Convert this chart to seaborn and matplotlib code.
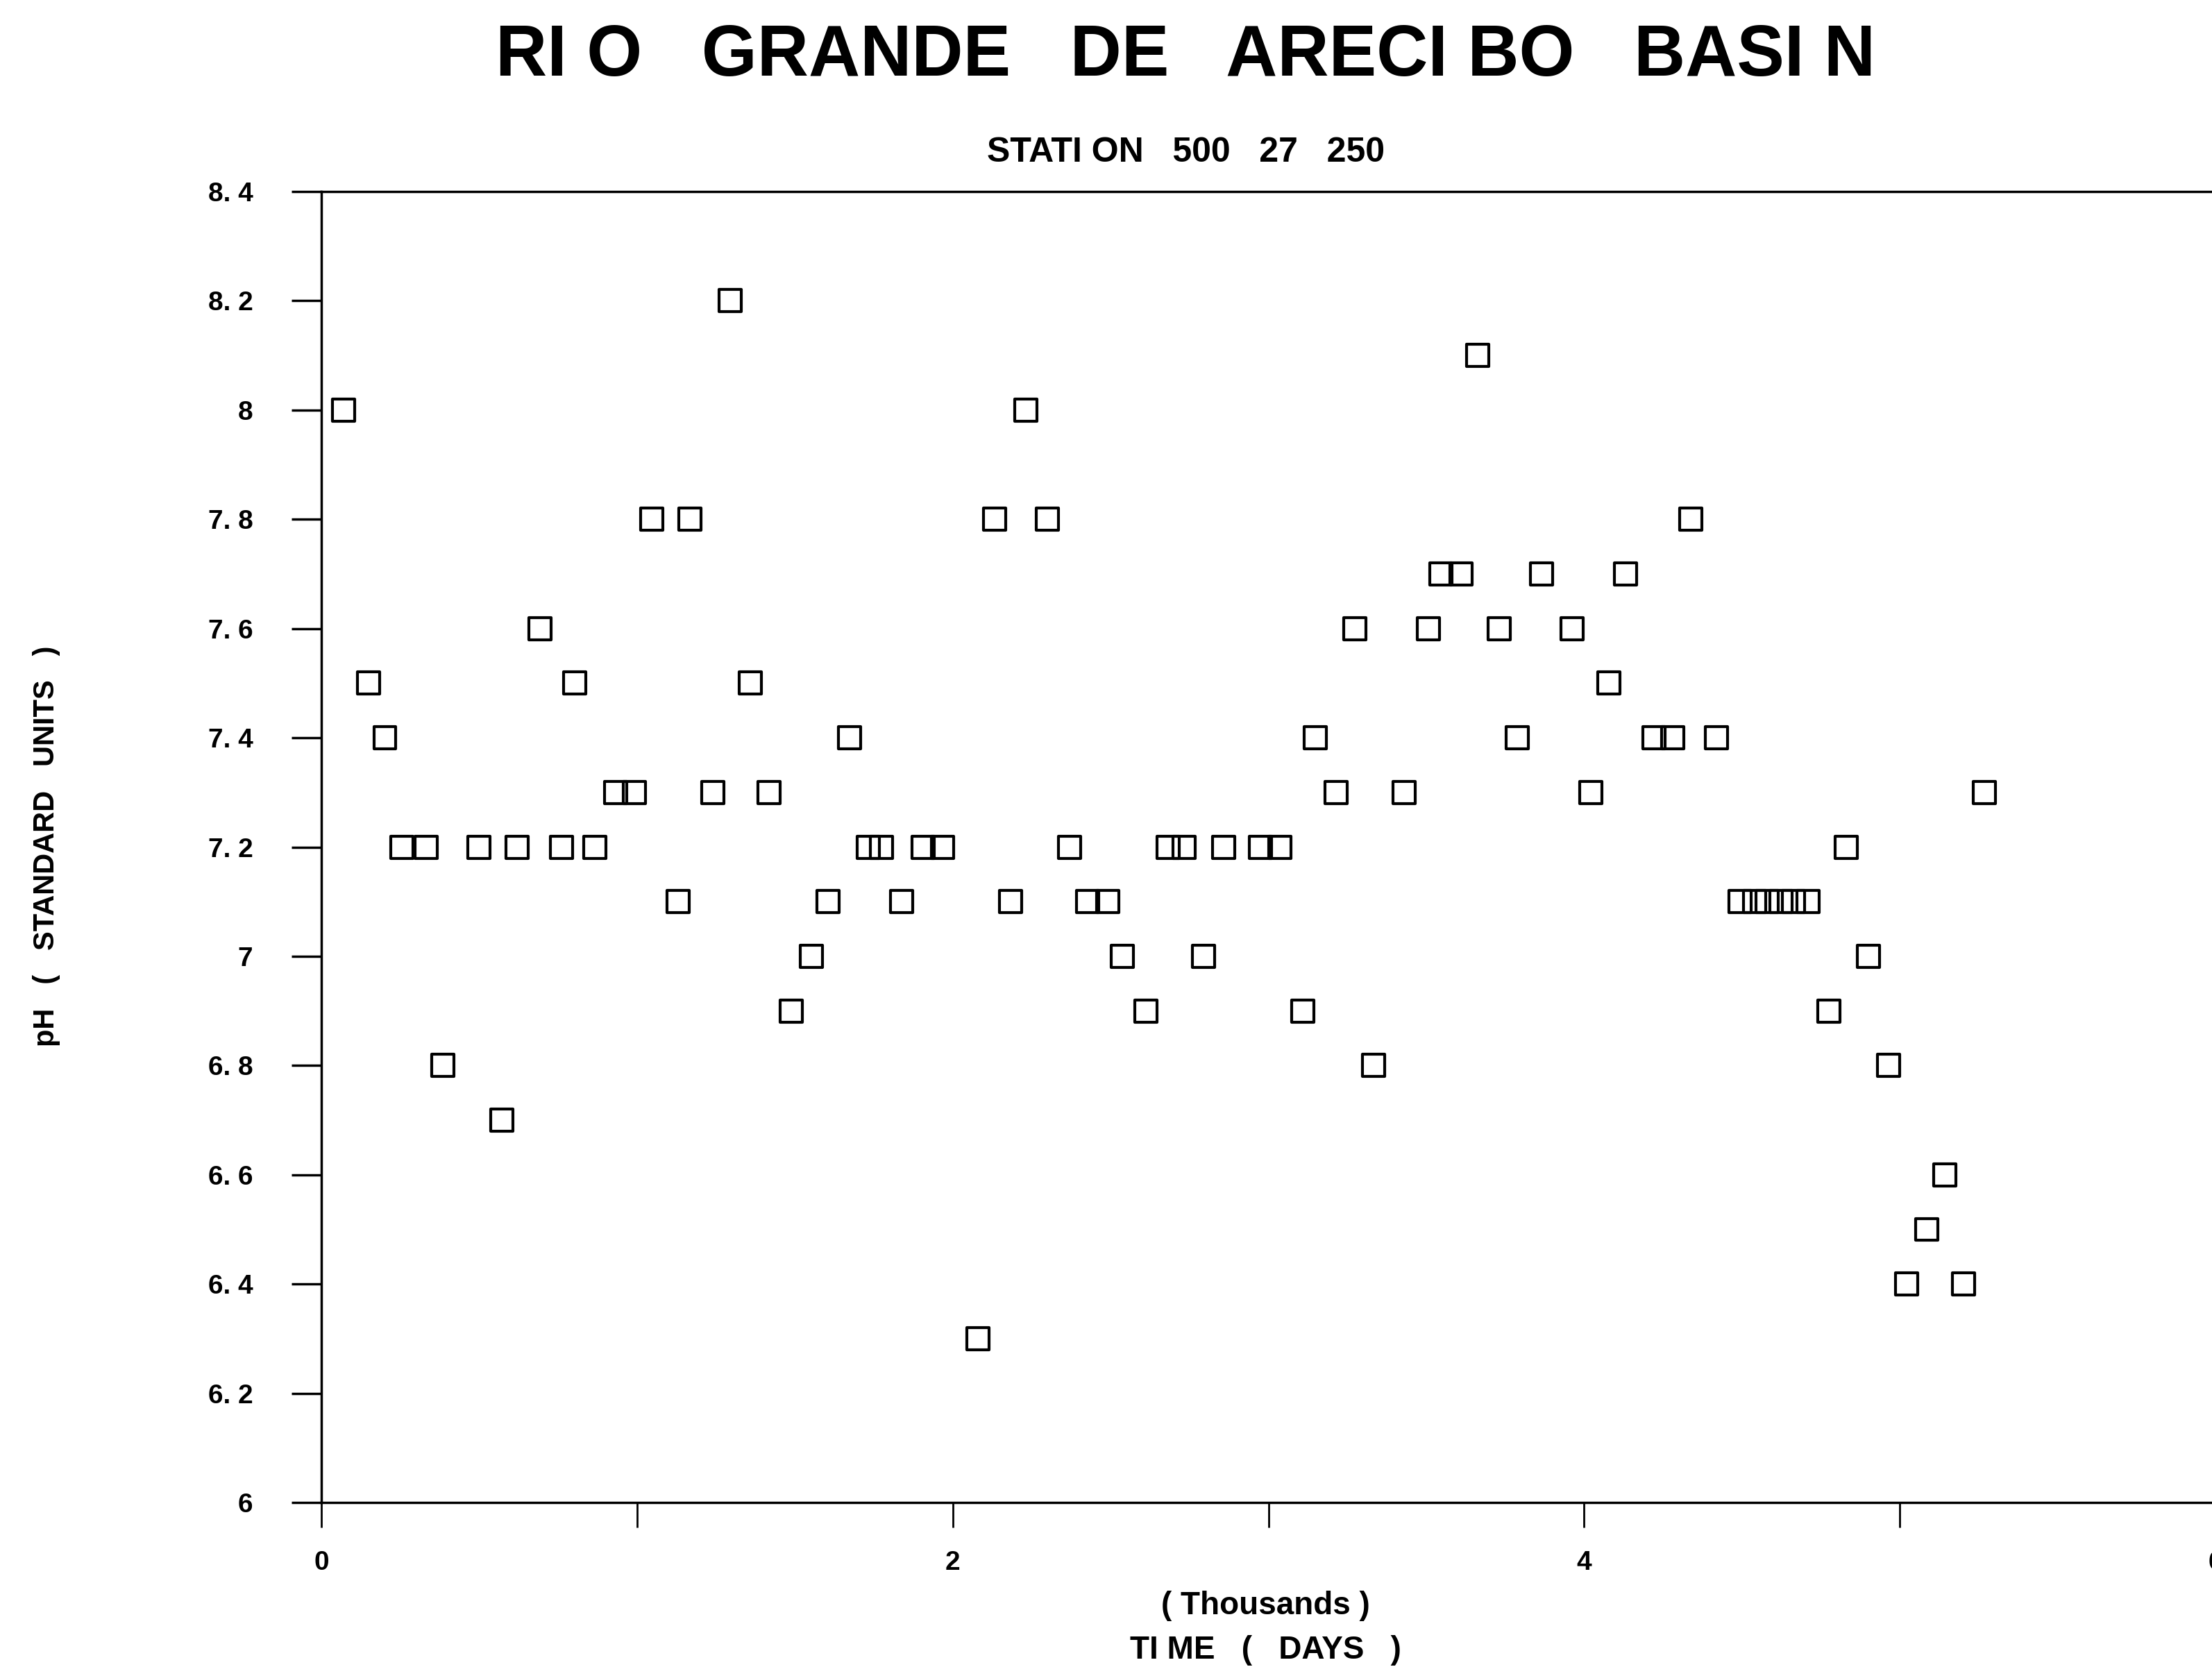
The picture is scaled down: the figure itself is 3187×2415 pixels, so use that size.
import numpy as np
import pandas as pd
import seaborn as sns
import matplotlib
matplotlib.use("Agg")
import matplotlib.pyplot as plt

# pH readings at station 500 27 250
time_days = [70, 150, 201, 255, 331, 385, 499, 572, 619, 693, 760, 803, 866, 932, 991,
             1046, 1130, 1167, 1239, 1295, 1359, 1418, 1489, 1552, 1605, 1673, 1733, 1775,
             1838, 1905, 1968, 2079, 2133, 2182, 2232, 2299, 2370, 2428, 2491, 2538, 2612,
             2683, 2732, 2794, 2858, 2974, 3036, 3108, 3148, 3215, 3274, 3332, 3430, 3506,
             3546, 3609, 3663, 3730, 3788, 3864, 3962, 4020, 4078, 4132, 4222, 4280, 4338,
             4418, 4494, 4539, 4579, 4624, 4664, 4709, 4776, 4830, 4901, 4964, 5022, 5085,
             5143, 5201, 5268]
ph = [8.0, 7.5, 7.4, 7.2, 7.2, 6.8, 7.2, 6.7, 7.2, 7.6, 7.2, 7.5, 7.2, 7.3, 7.3,
      7.8, 7.1, 7.8, 7.3, 8.2, 7.5, 7.3, 6.9, 7.0, 7.1, 7.4, 7.2, 7.2,
      7.1, 7.2, 7.2, 6.3, 7.8, 7.1, 8.0, 7.8, 7.2, 7.1, 7.1, 7.0, 6.9,
      7.2, 7.2, 7.0, 7.2, 7.2, 7.2, 6.9, 7.4, 7.3, 7.6, 6.8, 7.3, 7.6,
      7.7, 7.7, 8.1, 7.6, 7.4, 7.7, 7.6, 7.3, 7.5, 7.7, 7.4, 7.4, 7.8,
      7.4, 7.1, 7.1, 7.1, 7.1, 7.1, 7.1, 6.9, 7.2, 7.0, 6.8, 6.4, 6.5,
      6.6, 6.4, 7.3]

y_ticks = [6.0, 6.2, 6.4, 6.6, 6.8, 7.0, 7.2, 7.4, 7.6, 7.8, 8.0, 8.2, 8.4]
x_ticks = [0, 1, 2, 3, 4, 5, 6]
x_ticklabels = ["0", "", "2", "", "4", "", "6"]

df = pd.DataFrame({"time": np.array(time_days) / 1000.0, "ph": ph})

sns.set_style("ticks")
plt.rcParams["font.family"] = ["Liberation Sans", "DejaVu Sans"]
plt.rcParams["font.weight"] = "bold"
plt.rcParams["text.color"] = "black"
plt.rcParams["xtick.color"] = "black"
plt.rcParams["ytick.color"] = "black"

fig = plt.figure(figsize=(31.87, 24.15), dpi=100)
ax = fig.add_axes([0.1453, 0.1035, 0.8563, 0.7822])

sns.scatterplot(data=df, x="time", y="ph", ax=ax, marker="s", s=530,
                facecolor="none", edgecolor="black", linewidth=3.0, clip_on=False)

ax.set_xlim(0, 6)
ax.set_ylim(6, 8.4)
ax.set_xticks(x_ticks)
ax.set_xticklabels(x_ticklabels)
ax.set_yticks(y_ticks)
ylabels = [str(int(v)) if abs(v - round(v)) < 1e-9 else f"{v:.1f}".replace(".", ". ") for v in y_ticks]
ax.set_yticklabels(ylabels)

ax.tick_params(axis="y", direction="out", length=31, width=2.5, pad=40, labelsize=28)
ax.tick_params(axis="x", direction="out", length=26, width=2.0, pad=24, labelsize=28)
for lab in ax.get_xticklabels() + ax.get_yticklabels():
    lab.set_fontweight("bold")

for side in ["left", "bottom", "top"]:
    ax.spines[side].set_linewidth(2.5)
    ax.spines[side].set_color("black")
ax.spines["right"].set_visible(False)

ax.set_xlabel("")
ax.set_ylabel("")

fig.text(0.536, 0.966, "RI O   GRANDE   DE   ARECI BO   BASI N", ha="center", va="center",
         fontsize=74, fontweight="bold")
fig.text(0.536, 0.909, "STATI ON   500   27   250", ha="center", va="center",
         fontsize=36, fontweight="bold")
fig.text(0.021, 0.495, "pH   (   STANDARD   UNITS   )", rotation=90, ha="center", va="center",
         fontsize=30, fontweight="bold")
fig.text(0.572, 0.042, "( Thousands )", ha="center", va="center", fontsize=33, fontweight="bold")
fig.text(0.572, 0.0153, "TI ME   (   DAYS   )", ha="center", va="center", fontsize=33, fontweight="bold")

fig.savefig("out.png", dpi=100, facecolor="white")
